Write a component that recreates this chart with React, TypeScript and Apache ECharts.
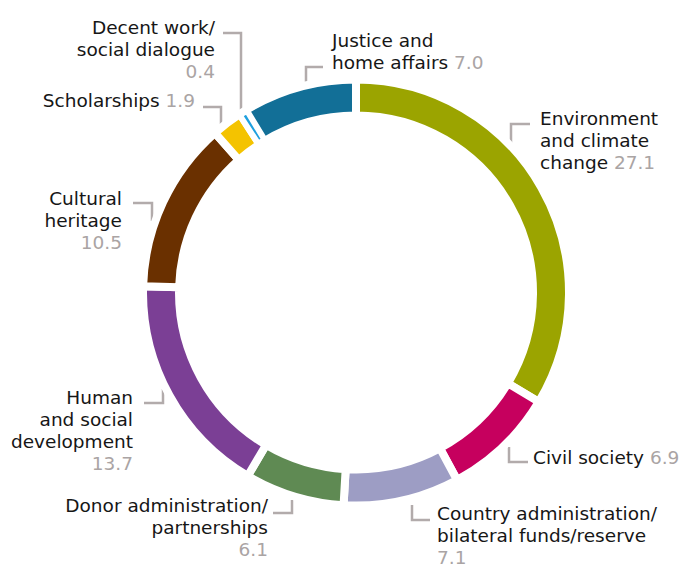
import React, { useEffect, useRef } from "react";
import * as echarts from "echarts";

// ---- data ----
const categories = [
  "Environment and climate change",
  "Civil society",
  "Country administration/bilateral funds/reserve",
  "Donor administration/partnerships",
  "Human and social development",
  "Cultural heritage",
  "Scholarships",
  "Decent work/social dialogue",
  "Justice and home affairs",
];
const labelTexts = [
  "Environment\nand climate\nchange",
  "Civil society",
  "Country administration/\nbilateral funds/reserve",
  "Donor administration/\npartnerships",
  "Human\nand social\ndevelopment",
  "Cultural\nheritage",
  "Scholarships",
  "Decent work/\nsocial dialogue",
  "Justice and\nhome affairs",
];
const values = [27.1, 6.9, 7.1, 6.1, 13.7, 10.5, 1.9, 0.4, 7.0];
const colors = [
  "#9ba400",
  "#c6005e",
  "#9d9dc4",
  "#5f8a53",
  "#7b3f95",
  "#6a3000",
  "#f4c300",
  "#1fa0df",
  "#126f97",
];
const SLIVER_INDEX = 7;

// ---- label layout (positions only) ----
type Lay = { x: number; y: number; align: "left" | "right"; nl: boolean; pts: number[][] };
const layouts: Lay[] = [
  { x: 540, y: 107, align: "left", nl: false, pts: [[511, 143], [511, 124], [530, 124]] },
  { x: 533, y: 446, align: "left", nl: false, pts: [[509, 447], [509, 462], [528, 462]] },
  { x: 437, y: 502, align: "left", nl: true, pts: [[412, 505], [412, 520], [430, 520]] },
  { x: 268, y: 494, align: "right", nl: true, pts: [[292, 500], [292, 513], [273, 513]] },
  { x: 133, y: 386, align: "right", nl: true, pts: [[163, 389], [163, 403], [144, 403]] },
  { x: 122, y: 187, align: "right", nl: true, pts: [[152, 221], [152, 203], [133, 203]] },
  { x: 195, y: 89, align: "right", nl: false, pts: [[221, 124], [221, 107], [203, 107]] },
  { x: 215, y: 16, align: "right", nl: true, pts: [[241, 110], [241, 33], [223, 33]] },
  { x: 332, y: 29, align: "left", nl: false, pts: [[306, 83], [306, 67], [323, 67]] },
];

const FONT = "'DejaVu Sans', 'Open Sans', sans-serif";
const FS = 18.5;
const LH = 22;
const CENTER = [356, 292.5];

export default function App() {
  const ref = useRef<HTMLDivElement>(null);

  useEffect(() => {
    if (!ref.current) return;
    const chart = echarts.init(ref.current, null, { renderer: "svg" });

    const mainData = categories.map((name, i) => ({
      name,
      value: values[i],
      itemStyle:
        i === SLIVER_INDEX
          ? { color: "transparent", borderColor: "#ffffff", borderWidth: 8 }
          : { color: colors[i], borderColor: "#ffffff", borderWidth: 8 },
    }));

    const sliverData = categories.map((name, i) => ({
      name,
      value: values[i],
      itemStyle:
        i === SLIVER_INDEX
          ? { color: colors[i], borderColor: "#ffffff", borderWidth: 4 }
          : { color: "transparent", borderWidth: 0 },
    }));

    chart.setOption({
      animation: false,
      backgroundColor: "#ffffff",
      series: [
        {
          type: "pie",
          center: CENTER,
          radius: [177, 213],
          startAngle: 90,
          clockwise: true,
          avoidLabelOverlap: false,
          silent: true,
          data: mainData,
          label: {
            show: true,
            position: "outside",
            fontFamily: FONT,
            fontSize: FS,
            color: "#161616",
            lineHeight: LH,
            formatter: (p: any) => {
              const i = p.dataIndex;
              const v = values[i].toFixed(1);
              return labelTexts[i] + (layouts[i].nl ? "\n" : " ") + "{v|" + v + "}";
            },
            rich: {
              v: {
                fontFamily: FONT,
                fontSize: FS,
                lineHeight: LH,
                color: "#aaa4a4",
              },
            },
          },
          labelLine: {
            show: true,
            length: 10,
            length2: 10,
            lineStyle: { color: "#b2abab", width: 2.5 },
          },
          labelLayout: (params: any) => {
            const l = layouts[params.dataIndex];
            return {
              x: l.x,
              y: l.y,
              align: l.align,
              verticalAlign: "top",
              labelLinePoints: l.pts,
            };
          },
        },
        {
          type: "pie",
          center: CENTER,
          radius: [179, 211],
          startAngle: 90,
          clockwise: true,
          silent: true,
          data: sliverData,
          label: { show: false },
          labelLine: { show: false },
        },
      ],
    });

    return () => chart.dispose();
  }, []);

  return (
    <div
      ref={ref}
      style={{ position: "absolute", left: 0, top: 0, width: 683, height: 567 }}
    />
  );
}
